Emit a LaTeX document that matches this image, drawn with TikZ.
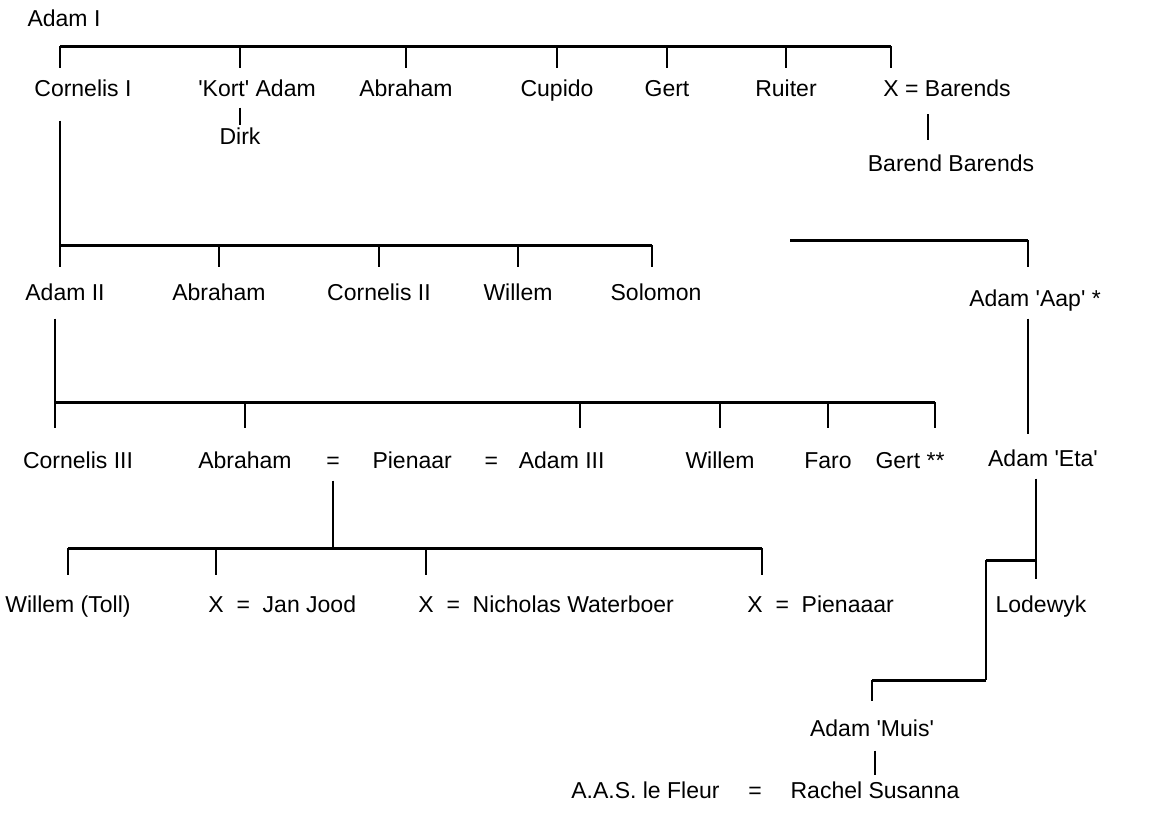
\documentclass[tikz,border=0pt]{standalone}
\usepackage{fontspec}
\setmainfont{Liberation Sans}
\usetikzlibrary{positioning}
\newcommand{\sq}{\textquotesingle}

\begin{document}
\begin{tikzpicture}[x=0.5pt,y=-0.5pt,
  person/.style={inner sep=0pt,text height=8.2pt,text depth=0pt},
  bar/.style={line width=1.5pt},
  tick/.style={line width=1.3pt},
  link/.style={line width=0.9pt},
  font=\fontsize{11.5}{13.5}\selectfont]
\useasboundingbox (0,0) rectangle (1149,814);

% Adam I and his sons
\node[person] (adamI) at (64,18) {Adam I};
\node[person,anchor=west] (corI) at (34,88) {Cornelis I};
\node[person] (kort) at (257,88) {\sq Kort\sq{} Adam};
\node[person] (dirk) at (240,136) {Dirk};
\node[person] (abrI) at (406,88) {Abraham};
\node[person] (cup) at (557,88) {Cupido};
\node[person] (gertI) at (667,88) {Gert};
\node[person] (ruit) at (786,88) {Ruiter};
\node[person,anchor=west] (xbar) at (883,88) {X = Barends};
\node[person] (barend) at (951,163) {Barend Barends};
\coordinate (g1l) at (60,46);
\coordinate (g1r) at (891,46);
\coordinate (tip1) at (0,68);
\coordinate (xb) at (928,114);
\draw[bar] (g1l) -- (g1r);
\foreach \n in {g1l,dirk,abrI,cup,gertI,ruit,g1r}
  \draw[tick] (\n |- g1l) -- (\n |- tip1);
\draw[tick,shorten <=5.5pt,shorten >=1pt] (dirk |- kort.south) -- (dirk.north);
\draw[tick,shorten >=7pt] (xb) -- (xb |- barend.north);

% sons of Cornelis I
\coordinate (g2l) at (60,245);
\coordinate (g2r) at (652,245);
\coordinate (tip2) at (0,267);
\node[person] (adamII) at (65,292) {Adam II};
\node[person] (abrII) at (219,292) {Abraham};
\node[person] (corII) at (379,292) {Cornelis II};
\node[person] (wilII) at (518,292) {Willem};
\node[person] (solo) at (656,292) {Solomon};
\draw[link,shorten <=12pt] (g2l |- corI.south) -- (g2l);
\draw[bar] (g2l) -- (g2r);
\foreach \n in {g2l,abrII,corII,wilII,g2r}
  \draw[tick] (\n |- g2l) -- (\n |- tip2);

% Adam 'Aap'
\coordinate (aapl) at (790,240);
\coordinate (aapr) at (1028,240);
\node[person] (aap) at (1035,298) {Adam \sq Aap\sq{} *};
\draw[bar] (aapl) -- (aapr);
\draw[tick] (aapr) -- (aapr |- tip2);

% sons of Adam II
\coordinate (g3l) at (55,402);
\coordinate (g3r) at (935,402);
\coordinate (c3) at (580,402);
\coordinate (tip3) at (0,428);
\node[person] (corIII) at (78,460) {Cornelis III};
\node[person] (abrIII) at (245,460) {Abraham};
\node[person] (eq1) at (333,460) {=};
\node[person,right=16pt of eq1] (pien) {Pienaar};
\node[person,right=16pt of pien] (eq2) {=};
\node[person,right=10pt of eq2] (adamIII) {Adam III};
\node[person] (wilIII) at (720,460) {Willem};
\node[person] (faro) at (828,460) {Faro};
\node[person] (gert) at (910,460) {Gert **};
\node[person] (eta) at (1043,458) {Adam \sq Eta\sq};
\draw[link,shorten <=9pt] (g3l |- adamII.south) -- (g3l);
\draw[bar] (g3l) -- (g3r);
\foreach \n in {g3l,abrIII,c3,wilIII,faro,g3r}
  \draw[tick] (\n |- g3l) -- (\n |- tip3);
\draw[link,shorten <=6pt,shorten >=7.5pt] (aap.south -| aapr) -- (eta.north -| aapr);

% children of Pienaar
\coordinate (g4l) at (68,548);
\coordinate (g4r) at (762,548);
\coordinate (j2) at (216,548);
\coordinate (j3) at (426,548);
\coordinate (tip4) at (0,575);
\node[person] (wilT) at (68,604) {Willem (Toll)};
\node[person,anchor=west] (jood) at (208,604) {X~~=~~Jan Jood};
\node[person,anchor=west] (nich) at (418,604) {X~~=~~Nicholas Waterboer};
\node[person,anchor=west] (pienaaar) at (747,604) {X~~=~~Pienaaar};
\draw[link,shorten <=6pt] (eq1.south) -- (eq1 |- g4l);
\draw[bar] (g4l) -- (g4r);
\foreach \n in {g4l,j2,j3,g4r}
  \draw[tick] (\n) -- (\n |- tip4);

% Adam 'Eta' down to Rachel Susanna
\coordinate (e1) at (1036,560);
\coordinate (e2) at (986,560);
\coordinate (e3) at (872,680);
\node[person] (lode) at (1041,604) {Lodewyk};
\node[person] (muis) at (872,728) {Adam \sq Muis\sq};
\node[person] (rachel) at (875,790) {Rachel Susanna};
\node[person,left=14pt of rachel] (eq3) {=};
\node[person,left=14pt of eq3] (aas) {A.A.S. le Fleur};
\draw[link,shorten <=6pt,shorten >=8pt] (eta.south -| e1) -- (e1 |- lode.north);
\draw[bar] (e1) -- (e2);
\draw[link] (e2) -- (e2 |- e3);
\draw[bar] (e2 |- e3) -- (e3);
\draw[tick,shorten >=9pt] (e3) -- (e3 |- muis.north);
\draw[tick,shorten <=7pt,shorten >=3pt] (muis.south -| rachel) -- (rachel.north);
\end{tikzpicture}
\end{document}
